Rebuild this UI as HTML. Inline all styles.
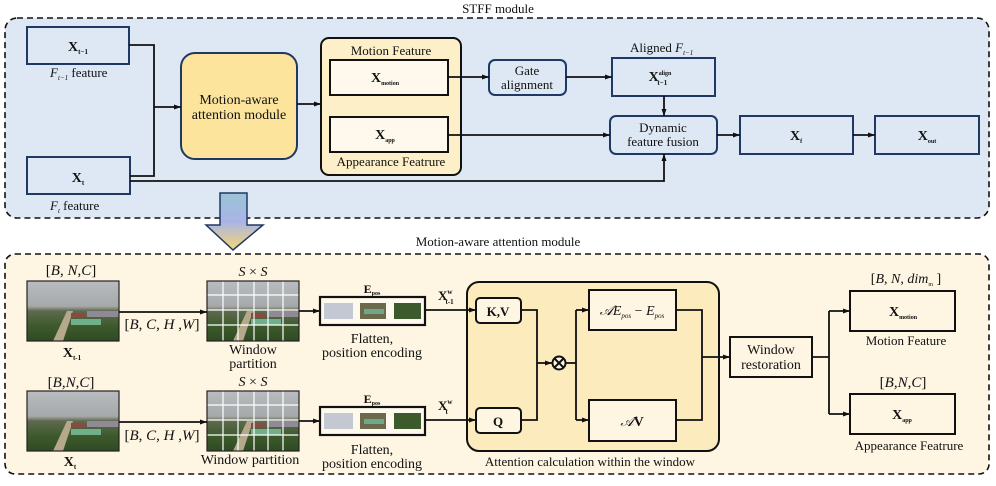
<!DOCTYPE html>
<html><head><meta charset="utf-8"><style>
html,body{margin:0;padding:0;background:#fff}
svg{display:block}
text{font-family:"Liberation Serif",serif;fill:#111}
.b{font-weight:bold}
</style></head><body>
<svg width="996" height="486" viewBox="0 0 996 486" xmlns="http://www.w3.org/2000/svg">
<defs>
<marker id="a" markerWidth="8" markerHeight="8" refX="7" refY="4" orient="auto" markerUnits="userSpaceOnUse"><path d="M0,1.5 L7,4 L0,6.5 Z" fill="#111"/></marker>
<linearGradient id="g" x1="0" y1="0" x2="0" y2="1"><stop offset="0" stop-color="#9cc3d6"/><stop offset="0.5" stop-color="#a9b4e6"/><stop offset="1" stop-color="#f7d873"/></linearGradient>
<linearGradient id="img" x1="0" y1="0" x2="0" y2="1"><stop offset="0" stop-color="#b9bcc0"/><stop offset="0.42" stop-color="#a6a9aa"/><stop offset="0.5" stop-color="#5e6a4e"/><stop offset="0.75" stop-color="#3d5a2c"/><stop offset="1" stop-color="#2f4a22"/></linearGradient>
<g id="photo">
<rect width="92" height="60" fill="url(#img)"/>
<path d="M40,30 L46,30 L36,60 L26,60 Z" fill="#b6a88c"/>
<rect x="44" y="38" width="30" height="6" fill="#6fb08a"/>
<rect x="60" y="30" width="32" height="6" fill="#8f8a96"/>
<rect x="44" y="32" width="14" height="4" fill="#8a4a40"/>
</g>
</defs>

<!-- TOP PANEL -->
<text x="498" y="13" font-size="13" text-anchor="middle">STFF module</text>
<rect x="5" y="18" width="984" height="200" rx="12" fill="#dde8f4" stroke="#111" stroke-width="1.6" stroke-dasharray="6,4"/>

<g fill="#dde8f4" stroke="#1f3864" stroke-width="2">
<rect x="27" y="27" width="102" height="37"/>
<rect x="27" y="157" width="103" height="37"/>
</g>
<text x="78" y="51" font-size="14" text-anchor="middle" class="b">X<tspan font-size="7" dy="3">t−1</tspan></text>
<text x="78" y="182" font-size="14" text-anchor="middle" class="b">X<tspan font-size="7" dy="3">t</tspan></text>
<text x="50" y="77" font-size="13"><tspan font-style="italic">F</tspan><tspan font-size="7" dy="3" font-style="italic">t−1</tspan><tspan dy="-3"> feature</tspan></text>
<text x="50" y="210" font-size="13"><tspan font-style="italic">F</tspan><tspan font-size="7" dy="3" font-style="italic">t</tspan><tspan dy="-3"> feature</tspan></text>

<rect x="181" y="53" width="116" height="106" rx="14" fill="#fde49c" stroke="#1f3864" stroke-width="2"/>
<text x="239" y="104" font-size="14" text-anchor="middle">Motion-aware</text>
<text x="239" y="119" font-size="14" text-anchor="middle">attention module</text>

<rect x="321" y="38" width="140" height="137" rx="8" fill="#fdf0c8" stroke="#111" stroke-width="2"/>
<text x="391" y="55" font-size="13" text-anchor="middle">Motion Feature</text>
<text x="391" y="166" font-size="13" text-anchor="middle">Appearance Featrure</text>
<rect x="330" y="60" width="118" height="35" fill="#fef9ec" stroke="#111" stroke-width="2"/>
<rect x="330" y="117" width="118" height="35" fill="#fef9ec" stroke="#111" stroke-width="2"/>
<text x="385" y="82" font-size="14" class="b" text-anchor="middle">X<tspan font-size="6" dy="3">motion</tspan></text>
<text x="385" y="139" font-size="14" class="b" text-anchor="middle">X<tspan font-size="6" dy="3">app</tspan></text>

<rect x="489" y="60" width="77" height="35" rx="6" fill="#dde8f4" stroke="#1f3864" stroke-width="2"/>
<text x="527" y="75" font-size="13" text-anchor="middle">Gate</text>
<text x="527" y="89" font-size="13" text-anchor="middle">alignment</text>
<rect x="612" y="58" width="103" height="38" fill="#dde8f4" stroke="#1f3864" stroke-width="2"/>
<text x="660" y="81" font-size="14" class="b" text-anchor="middle">X<tspan font-size="6" dy="-6">align</tspan><tspan font-size="7" dx="-14" dy="10">t−1</tspan></text>
<text x="630" y="52" font-size="13">Aligned <tspan font-style="italic">F</tspan><tspan font-size="7" dy="3" font-style="italic">t−1</tspan></text>
<rect x="610" y="116" width="107" height="38" rx="6" fill="#dde8f4" stroke="#1f3864" stroke-width="2"/>
<text x="663" y="132" font-size="13" text-anchor="middle">Dynamic</text>
<text x="663" y="146" font-size="13" text-anchor="middle">feature fusion</text>
<rect x="740" y="116" width="113" height="38" fill="#dde8f4" stroke="#1f3864" stroke-width="2"/>
<text x="796" y="140" font-size="14" class="b" text-anchor="middle">X<tspan font-size="6" dy="3">f</tspan></text>
<rect x="875" y="116" width="104" height="38" fill="#dde8f4" stroke="#1f3864" stroke-width="2"/>
<text x="927" y="140" font-size="14" class="b" text-anchor="middle">X<tspan font-size="6" dy="3">out</tspan></text>

<g fill="none" stroke="#111" stroke-width="1.8">
<path d="M129,45 H154 V176 H130"/>
<path d="M154,107 H181" marker-end="url(#a)"/>
<path d="M297,104 H321" marker-end="url(#a)"/>
<path d="M448,77 H489" marker-end="url(#a)"/>
<path d="M566,77 H612" marker-end="url(#a)"/>
<path d="M664,96 V116" marker-end="url(#a)"/>
<path d="M448,135 H610" marker-end="url(#a)"/>
<path d="M130,181 H664 V154" marker-end="url(#a)"/>
<path d="M717,135 H740" marker-end="url(#a)"/>
<path d="M853,135 H875" marker-end="url(#a)"/>
</g>

<path d="M220,193 H247 V225 H263 L233,250 L206,225 H220 Z" fill="url(#g)" stroke="#1f3864" stroke-width="1.5"/>

<!-- BOTTOM PANEL -->
<text x="498" y="246" font-size="13" text-anchor="middle">Motion-aware attention module</text>
<rect x="5" y="254" width="984" height="220" rx="10" fill="#fef5e3" stroke="#111" stroke-width="1.6" stroke-dasharray="6,4"/>

<text x="71" y="275" font-size="15" text-anchor="middle">[<tspan font-style="italic">B</tspan>, <tspan font-style="italic">N</tspan>,<tspan font-style="italic">C</tspan>]</text>
<text x="71" y="387" font-size="15" text-anchor="middle">[<tspan font-style="italic">B</tspan>,<tspan font-style="italic">N</tspan>,<tspan font-style="italic">C</tspan>]</text>
<use href="#photo" x="27" y="281"/>
<use href="#photo" x="27" y="391"/>
<rect x="27" y="281" width="92" height="60" fill="none" stroke="#222" stroke-width="1.2"/>
<rect x="27" y="391" width="92" height="60" fill="none" stroke="#222" stroke-width="1.2"/>
<text x="72" y="357" font-size="14" class="b" text-anchor="middle">X<tspan font-size="7" dy="3">t-1</tspan></text>
<text x="70" y="466" font-size="14" class="b" text-anchor="middle">X<tspan font-size="7" dy="3">t</tspan></text>

<text x="162" y="329" font-size="15" text-anchor="middle">[<tspan font-style="italic">B</tspan>, <tspan font-style="italic">C</tspan>, <tspan font-style="italic">H</tspan> ,<tspan font-style="italic">W</tspan>]</text>
<text x="162" y="440" font-size="15" text-anchor="middle">[<tspan font-style="italic">B</tspan>, <tspan font-style="italic">C</tspan>, <tspan font-style="italic">H</tspan> ,<tspan font-style="italic">W</tspan>]</text>

<g id="grid1">
<use href="#photo" x="207" y="281"/>
<g stroke="#fff" stroke-width="1.2">
<path d="M223,281 V341 M238,281 V341 M254,281 V341 M268,281 V341 M283,281 V341"/>
<path d="M207,295 H299 M207,310 H299 M207,325 H299"/>
</g>
<rect x="207" y="281" width="92" height="60" fill="none" stroke="#222" stroke-width="1.2"/>
</g>
<use href="#grid1" y="110"/>
<text x="253" y="276" font-size="14" text-anchor="middle" font-style="italic">S <tspan font-style="normal">×</tspan> S</text>
<text x="253" y="386" font-size="14" text-anchor="middle" font-style="italic">S <tspan font-style="normal">×</tspan> S</text>
<text x="253" y="354" font-size="14" text-anchor="middle">Window</text>
<text x="253" y="368" font-size="14" text-anchor="middle">partition</text>
<text x="250" y="464" font-size="14" text-anchor="middle">Window partition</text>

<g id="epos">
<rect x="320" y="297" width="105" height="28" fill="#fef9ec" stroke="#111" stroke-width="2.2"/>
<rect x="324" y="303" width="29" height="16" fill="#c3c8d2"/>
<rect x="360" y="303" width="26" height="16" fill="#6b6a4c"/>
<rect x="364" y="309" width="20" height="5" fill="#6fa888"/>
<rect x="394" y="303" width="27" height="16" fill="#3d5a2c"/>
</g>
<use href="#epos" y="110"/>
<text x="372" y="293" font-size="12" class="b" text-anchor="middle">E<tspan font-size="6" dy="2">pos</tspan></text>
<text x="372" y="403" font-size="12" class="b" text-anchor="middle">E<tspan font-size="6" dy="2">pos</tspan></text>
<text x="372" y="343" font-size="14" text-anchor="middle">Flatten,</text>
<text x="372" y="357" font-size="14" text-anchor="middle">position encoding</text>
<text x="372" y="454" font-size="14" text-anchor="middle">Flatten,</text>
<text x="372" y="468" font-size="14" text-anchor="middle">position encoding</text>
<text x="438" y="300" font-size="13" class="b">X<tspan font-size="7" dy="-6">w</tspan><tspan font-size="7" dx="-7" dy="10">t-1</tspan></text>
<text x="438" y="410" font-size="13" class="b">X<tspan font-size="7" dy="-6">w</tspan><tspan font-size="7" dx="-7" dy="10">t</tspan></text>

<rect x="467" y="282" width="252" height="169" rx="12" fill="#fcebbd" stroke="#111" stroke-width="2"/>
<text x="590" y="466" font-size="13" text-anchor="middle">Attention calculation within the window</text>
<rect x="476" y="298" width="45" height="25" rx="4" fill="#fef5e3" stroke="#111" stroke-width="2"/>
<rect x="476" y="408" width="45" height="25" rx="4" fill="#fef5e3" stroke="#111" stroke-width="2"/>
<text x="498" y="316" font-size="13" class="b" text-anchor="middle">K,V</text>
<text x="498" y="426" font-size="13" class="b" text-anchor="middle">Q</text>
<rect x="589" y="290" width="87" height="40" fill="#fef5e3" stroke="#111" stroke-width="2"/>
<rect x="589" y="400" width="87" height="41" fill="#fef5e3" stroke="#111" stroke-width="2"/>
<text x="632" y="315" font-size="14" text-anchor="middle" font-style="italic">𝒜E<tspan font-size="7" dy="3">pos</tspan><tspan dy="-3" font-style="normal"> − </tspan>E<tspan font-size="7" dy="3">pos</tspan></text>
<text x="632" y="426" font-size="14" text-anchor="middle"><tspan font-style="italic">𝒜</tspan><tspan font-weight="bold">V</tspan></text>
<circle cx="559" cy="363" r="6.5" fill="#fef5e3" stroke="#111" stroke-width="2"/>
<path d="M554.5,358.5 L563.5,367.5 M563.5,358.5 L554.5,367.5" stroke="#111" stroke-width="2"/>

<rect x="730" y="337" width="82" height="40" fill="#fef5e3" stroke="#111" stroke-width="2"/>
<text x="771" y="354" font-size="14" text-anchor="middle">Window</text>
<text x="771" y="369" font-size="14" text-anchor="middle">restoration</text>

<rect x="850" y="291" width="105" height="40" fill="#fef5e3" stroke="#111" stroke-width="2"/>
<rect x="850" y="394" width="105" height="40" fill="#fef5e3" stroke="#111" stroke-width="2"/>
<text x="903" y="316" font-size="14" class="b" text-anchor="middle">X<tspan font-size="6" dy="3">motion</tspan></text>
<text x="902" y="419" font-size="14" class="b" text-anchor="middle">X<tspan font-size="6" dy="3">app</tspan></text>
<text x="906" y="283" font-size="14" text-anchor="middle">[<tspan font-style="italic">B</tspan>, <tspan font-style="italic">N</tspan>, <tspan font-style="italic">dim</tspan><tspan font-size="6" dy="3">m</tspan><tspan dy="-3"> ]</tspan></text>
<text x="906" y="345" font-size="13" text-anchor="middle">Motion Feature</text>
<text x="903" y="387" font-size="15" text-anchor="middle">[<tspan font-style="italic">B</tspan>,<tspan font-style="italic">N</tspan>,<tspan font-style="italic">C</tspan>]</text>
<text x="909" y="450" font-size="13" text-anchor="middle">Appearance Featrure</text>

<g fill="none" stroke="#111" stroke-width="1.8">
<path d="M119,312 H207" marker-end="url(#a)"/>
<path d="M119,422 H207" marker-end="url(#a)"/>
<path d="M299,311 H320" marker-end="url(#a)"/>
<path d="M299,421 H320" marker-end="url(#a)"/>
<path d="M425,310 H476" marker-end="url(#a)"/>
<path d="M425,420 H476" marker-end="url(#a)"/>
<path d="M521,310 H537 V420 H521"/>
<path d="M537,363 H552" marker-end="url(#a)"/>
<path d="M566,363 H576"/>
<path d="M576,310 V420"/>
<path d="M576,310 H589" marker-end="url(#a)"/>
<path d="M576,420 H589" marker-end="url(#a)"/>
<path d="M676,310 H702 V420 H676"/>
<path d="M702,357 H730" marker-end="url(#a)"/>
<path d="M812,357 H829"/>
<path d="M829,311 V414"/>
<path d="M829,311 H850" marker-end="url(#a)"/>
<path d="M829,414 H850" marker-end="url(#a)"/>
</g>
</svg>
</body></html>
